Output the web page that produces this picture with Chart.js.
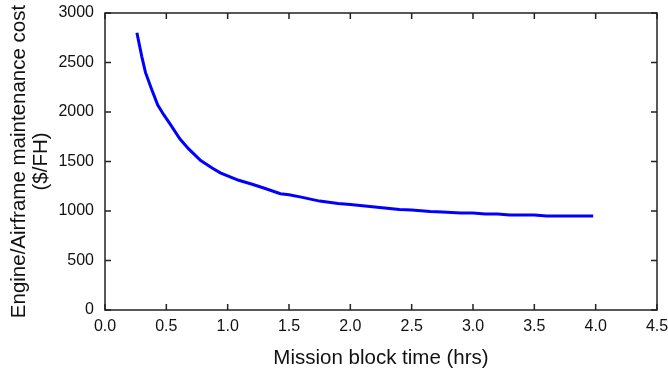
<!DOCTYPE html>
<html>
<head>
<meta charset="utf-8">
<script src="https://cdn.jsdelivr.net/npm/chart.js@4/dist/chart.umd.min.js"></script>
<style>
  html, body { margin: 0; padding: 0; background: #fff; }
  #wrap { width: 668px; height: 371px; }
</style>
</head>
<body>
<div id="wrap"><canvas id="myChart"></canvas></div>
<script>
// mission block time (hrs)
const blockTime = [0.26, 0.30, 0.33, 0.38, 0.43, 0.48, 0.53, 0.61, 0.68, 0.78, 0.88, 0.94, 1.09, 1.2, 1.3, 1.43, 1.5, 1.6, 1.75, 1.9, 2.0, 2.2, 2.4, 2.5, 2.65, 2.75, 2.9, 3.0, 3.1, 3.2, 3.3, 3.5, 3.6, 3.98];
// engine/airframe maintenance cost ($/FH)
const maintCost = [2800, 2560, 2400, 2230, 2070, 1970, 1880, 1730, 1630, 1510, 1430, 1385, 1310, 1270, 1230, 1175, 1165, 1140, 1100, 1075, 1065, 1040, 1015, 1010, 995, 990, 980, 980, 970, 970, 960, 960, 950, 950];
const xTicks = [0, 0.5, 1, 1.5, 2, 2.5, 3, 3.5, 4, 4.5];
const yTicks = [0, 500, 1000, 1500, 2000, 2500, 3000];

const FONT = 'Liberation Sans, Arial, sans-serif';

// box + inward ticks, matlab style
const boxPlugin = {
    id: 'box',
    afterDraw(chart) {
        const { ctx, chartArea: a, scales } = chart;
        ctx.save();
        ctx.strokeStyle = '#222';
        ctx.lineWidth = 1.5;
        ctx.strokeRect(a.left, a.top, a.right - a.left, a.bottom - a.top);
        ctx.beginPath();
        const len = 6;
        xTicks.forEach(v => {
            const px = scales.x.getPixelForValue(v);
            ctx.moveTo(px, a.bottom); ctx.lineTo(px, a.bottom - len);
            ctx.moveTo(px, a.top); ctx.lineTo(px, a.top + len);
        });
        yTicks.forEach(v => {
            const py = scales.y.getPixelForValue(v);
            ctx.moveTo(a.left, py); ctx.lineTo(a.left + len, py);
            ctx.moveTo(a.right, py); ctx.lineTo(a.right - len, py);
        });
        ctx.stroke();
        ctx.restore();
    }
};

new Chart(document.getElementById('myChart').getContext('2d'), {
    type: 'line',
    data: {
        datasets: [{
            data: blockTime.map((x, i) => ({ x: x, y: maintCost[i] })),
            borderColor: '#0000ff',
            borderWidth: 3,
            pointRadius: 0,
            tension: 0,
            fill: false
        }]
    },
    options: {
        responsive: true,
        maintainAspectRatio: false,
        animation: false,
        layout: { padding: { left: 0, right: 11, top: 13, bottom: 0 } },
        plugins: {
            legend: { display: false },
            tooltip: { enabled: false }
        },
        scales: {
            x: {
                type: 'linear',
                min: 0,
                max: 4.5,
                afterBuildTicks: s => { s.ticks = xTicks.map(v => ({ value: v })); },
                afterFit: s => { s.height = 61; s.paddingLeft = 0; s.paddingRight = 0; },
                grid: { display: false, drawTicks: false },
                border: { display: false },
                ticks: {
                    color: '#111',
                    padding: 7,
                    maxRotation: 0,
                    font: { family: FONT, size: 16 },
                    callback: v => v.toFixed(1)
                },
                title: {
                    display: true,
                    text: 'Mission block time (hrs)',
                    color: '#111',
                    padding: { top: 6, bottom: 0 },
                    font: { family: FONT, size: 20.5 }
                }
            },
            y: {
                min: 0,
                max: 3000,
                afterBuildTicks: s => { s.ticks = yTicks.map(v => ({ value: v })); },
                afterFit: s => { s.width = 105; s.paddingTop = 0; s.paddingBottom = 0; },
                grid: { display: false, drawTicks: false },
                border: { display: false },
                ticks: {
                    color: '#111',
                    padding: 11,
                    font: { family: FONT, size: 16 },
                    callback: v => String(v)
                },
                title: {
                    display: true,
                    text: ['Engine/Airframe maintenance cost', '($/FH)'],
                    color: '#111',
                    padding: { top: 8, bottom: 4 },
                    font: { family: FONT, size: 20.5, lineHeight: 1.1 }
                }
            }
        }
    },
    plugins: [boxPlugin]
});
</script>
</body>
</html>
